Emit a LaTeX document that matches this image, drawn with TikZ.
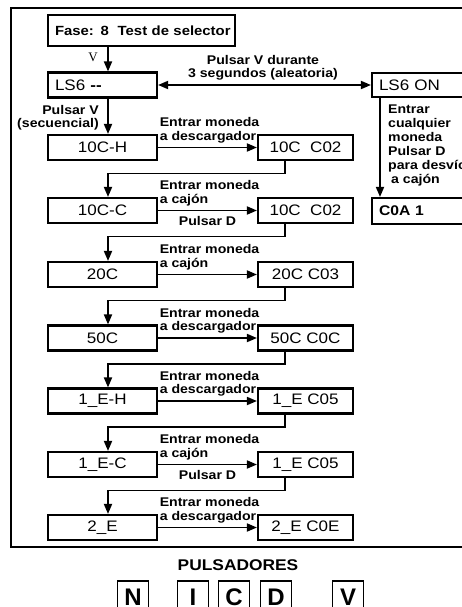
\documentclass[tikz,border=0pt]{standalone}
\usepackage{fontspec}
\setmainfont{Liberation Sans}[FakeStretch=1.12]
\newfontfamily\btnfont{Liberation Sans}[FakeStretch=1.0]
\newfontfamily\serifv{Liberation Serif}
\usetikzlibrary{arrows.meta,calc}
\begin{document}
\begin{tikzpicture}[x=1pt,y=-1pt,
  box/.style={draw, line width=2.1pt, minimum height=25pt, inner sep=0pt, font=\fontsize{15.2}{16}\selectfont},
  lbox/.style={box, minimum width=109pt},
  rbox/.style={box, minimum width=95pt},
  tbox/.style={box, inner xsep=7pt, align=left},
  lbl/.style={font=\bfseries\fontsize{12.6}{13.2}\selectfont, inner sep=0pt, align=left},
  conn/.style={line width=1.7pt},
  tip/.tip={Triangle[length=10pt,width=8pt]},
  arr/.style={conn, -tip},
  btn/.style={draw, line width=1.8pt, minimum width=31pt, minimum height=32pt, anchor=north, inner sep=0pt, text height=17.2pt, text depth=0pt, font=\btnfont\bfseries\fontsize{24}{24}\selectfont}
]
\clip (0,0) rectangle (462,607);
\fill[white] (0,0) rectangle (462,607);
% frame
\draw[line width=2.2pt] (11,8) rectangle (480,547);
% column coordinates
\coordinate (lx) at (108,0);
\coordinate (rx) at (285,0);
\coordinate (vx) at (380,0);
% top nodes
\node[tbox, text width=173pt, minimum height=31pt, font=\bfseries\fontsize{13.3}{15}\selectfont] (fase) at (141.5,30.5) {\mbox{Fase: 8\ \ Test de selector}};
\node[tbox, text width=95pt] (ls6) at (102.5,85) {LS6 \textbf{-}\textbf{-}};
\node[tbox, text width=94pt, minimum height=24pt] (ls6on) at (426,85) {LS6 ON};
\node[tbox, text width=94pt, minimum height=26pt, font=\bfseries\fontsize{14}{16}\selectfont] (c0a) at (426,211) {C0A 1};
% rows
\node[lbox] (L1) at (102.5,147.5) {10C-H};
\node[rbox] (R1) at (305.5,147.5) {10C\ \ C02};
\node[lbox] (L2) at (102.5,210.5) {10C-C};
\node[rbox] (R2) at (305.5,210.5) {10C\ \ C02};
\node[lbox] (L3) at (102.5,274.5) {20C};
\node[rbox] (R3) at (305.5,274.5) {20C C03};
\node[lbox] (L4) at (102.5,338) {50C};
\node[rbox] (R4) at (305.5,338) {50C C0C};
\node[lbox] (L5) at (102.5,401) {1\_E-H};
\node[rbox] (R5) at (305.5,401) {1\_E C05};
\node[lbox] (L6) at (102.5,464.5) {1\_E-C};
\node[rbox] (R6) at (305.5,464.5) {1\_E C05};
\node[lbox] (L7) at (102.5,527.5) {2\_E};
\node[rbox] (R7) at (305.5,527.5) {2\_E C0E};
% top connectors
\draw[arr] (fase.south -| lx) -- (ls6.north -| lx);
\node[font=\serifv\fontsize{13}{13}\selectfont, inner sep=0pt] (vlab) at (93,57) {V};
\draw[conn, tip-tip] (ls6.east) -- (ls6on.west);
\node[lbl, align=center, anchor=south] (pvd) at (263,80.5) {Pulsar V durante\\3 segundos (aleatoria)};
\draw[arr] (ls6.south -| lx) -- (L1.north -| lx);
\node[lbl, align=right, anchor=south east] (pvs) at (99,130.5) {Pulsar V\\(secuencial)};
\draw[arr] (ls6on.south -| vx) -- (c0a.north -| vx);
\node[lbl, anchor=north west, font=\bfseries\fontsize{12.6}{14}\selectfont] (cual) at (388,104.5) {Entrar\\cualquier\\moneda\\Pulsar D\\para desvío\\\hspace{3pt}a cajón};
% row connectors
\foreach \i/\t in {1/a descargador,2/a cajón,3/a cajón,4/a descargador,5/a descargador,6/a cajón,7/a descargador}{
  \draw[arr] (L\i.east) -- (R\i.west);
  \node[lbl, anchor=south west] (lab\i) at ($(L\i.east)+(1.5,-4.5)$) {Entrar moneda\\\t};
}
\node[lbl, anchor=north] (pd2) at ($(L2.east)!0.5!(R2.west)+(0,6)$) {Pulsar D};
\node[lbl, anchor=north] (pd6) at ($(L6.east)!0.5!(R6.west)+(0,6)$) {Pulsar D};
\foreach \i/\j in {1/2,2/3,3/4,4/5,5/6,6/7}{
  \draw[arr] (R\i.south -| rx) -- ++(0,12.5) -| (L\j.north -| lx);
}
% pulsadores
\node[font=\bfseries\fontsize{15.5}{16}\selectfont, inner sep=0pt] (puls) at (238,565) {PULSADORES};
\node[btn] (bN) at (133,580) {N};
\node[btn] (bI) at (193,580) {I};
\node[btn] (bC) at (234,580) {C};
\node[btn] (bD) at (276,580) {D};
\node[btn] (bV) at (348,580) {V};
\end{tikzpicture}
\end{document}
